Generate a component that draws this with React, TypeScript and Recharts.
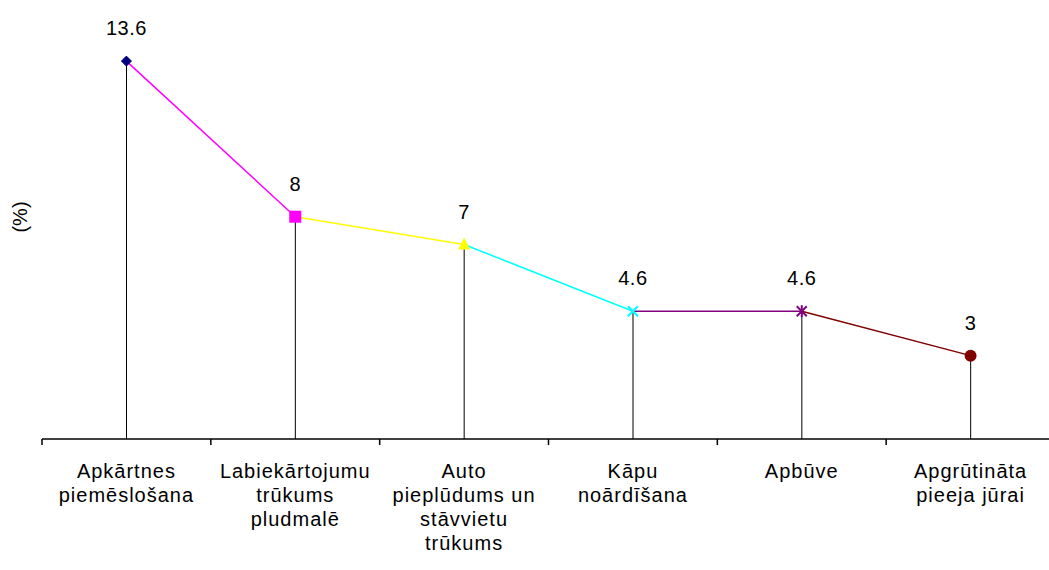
import React from "react";
import { ComposedChart, Line, Bar, XAxis, YAxis, LabelList } from "recharts";

const categories = [
  "Apkārtnes\npiemēslošana",
  "Labiekārtojumu\ntrūkums\npludmalē",
  "Auto\npieplūdums un\nstāvvietu\ntrūkums",
  "Kāpu\nnoārdīšana",
  "Apbūve",
  "Apgrūtināta\npieeja jūrai",
];
const values = [13.6, 8, 7, 4.6, 4.6, 3];
const segmentColors = ["#FF00FF", "#FFFF00", "#00FFFF", "#800080", "#800000"];
const markerColors = ["#000080", "#FF00FF", "#FFFF00", "#00FFFF", "#800080", "#800000"];

const data = categories.map((name, i) => {
  const row: any = { name, value: values[i] };
  segmentColors.forEach((_, s) => {
    row["s" + s] = i === s || i === s + 1 ? values[i] : null;
  });
  return row;
});

const FONT = "'Liberation Sans', Arial, sans-serif";
const CHART_W = 1070;
const MARGIN = { top: 50, right: 15, bottom: 130, left: 42 };
const PLOT_W = CHART_W - MARGIN.left - MARGIN.right;

const Marker = (props: any) => {
  const { cx, cy, index } = props;
  if (cx == null || cy == null) return null;
  const c = markerColors[index];
  switch (index) {
    case 0:
      return <polygon points={`${cx},${cy - 5} ${cx + 5},${cy} ${cx},${cy + 5} ${cx - 5},${cy}`} fill={c} stroke={c} />;
    case 1:
      return <rect x={cx - 6} y={cy - 6} width={12} height={12} fill={c} />;
    case 2:
      return <polygon points={`${cx},${cy - 7} ${cx + 6},${cy + 5} ${cx - 6},${cy + 5}`} fill={c} />;
    case 3:
      return (
        <g stroke={c} strokeWidth={2}>
          <line x1={cx - 5} y1={cy - 5} x2={cx + 5} y2={cy + 5} />
          <line x1={cx - 5} y1={cy + 5} x2={cx + 5} y2={cy - 5} />
        </g>
      );
    case 4:
      return (
        <g stroke={c} strokeWidth={2}>
          <line x1={cx - 5} y1={cy - 5} x2={cx + 5} y2={cy + 5} />
          <line x1={cx - 5} y1={cy + 5} x2={cx + 5} y2={cy - 5} />
          <line x1={cx} y1={cy - 6} x2={cx} y2={cy + 6} />
        </g>
      );
    default:
      return <circle cx={cx} cy={cy} r={6} fill={c} />;
  }
};

const CatTick = (props: any) => {
  const { x, y, payload, index } = props;
  const lines = String(payload.value).split("\n");
  const half = payload.offset || PLOT_W / categories.length / 2;
  return (
    <g>
      <line x1={x - half} y1={y} x2={x - half} y2={y + 6} stroke="#000" strokeWidth={1.5} />
      {index === categories.length - 1 && (
        <line x1={x + half} y1={y} x2={x + half} y2={y + 6} stroke="#000" strokeWidth={1.5} />
      )}
      <text x={x} y={y + 39} textAnchor="middle" fontFamily={FONT} fontSize={20} letterSpacing={1} fill="#000">
        {lines.map((l, i) => (
          <tspan key={i} x={x} dy={i === 0 ? 0 : 24}>
            {l}
          </tspan>
        ))}
      </text>
    </g>
  );
};

const ValueLabel = (props: any) => {
  const { x, y, value } = props;
  return (
    <text x={x} y={y - 26} textAnchor="middle" fontFamily={FONT} fontSize={20} letterSpacing={0.5} fill="#000">
      {value}
    </text>
  );
};

export default function App() {
  return (
    <div style={{ position: "absolute", left: 0, top: 0, width: 1049, height: 570, overflow: "hidden", background: "#fff" }}>
      <div
        style={{
          position: "absolute",
          left: 20,
          top: 217,
          transform: "translate(-50%, -50%) rotate(-90deg)",
          fontFamily: FONT,
          fontSize: 20,
          whiteSpace: "nowrap",
        }}
      >
        (%)
      </div>
      <ComposedChart width={CHART_W} height={570} data={data} margin={MARGIN}>
        <XAxis
          dataKey="name"
          height={1}
          axisLine={{ stroke: "#000", strokeWidth: 1.5 }}
          tickLine={false}
          tickSize={0}
          tickMargin={0}
          interval={0}
          tick={<CatTick />}
        />
        <YAxis hide domain={[0, 14]} />
        <Bar dataKey="value" barSize={1} fill="#000" isAnimationActive={false} />
        {segmentColors.map((c, s) => (
          <Line
            key={s}
            dataKey={"s" + s}
            stroke={c}
            strokeWidth={1.5}
            dot={false}
            connectNulls={false}
            isAnimationActive={false}
          />
        ))}
        <Line dataKey="value" stroke="none" dot={<Marker />} activeDot={false} isAnimationActive={false}>
          <LabelList dataKey="value" content={<ValueLabel />} />
        </Line>
      </ComposedChart>
    </div>
  );
}
